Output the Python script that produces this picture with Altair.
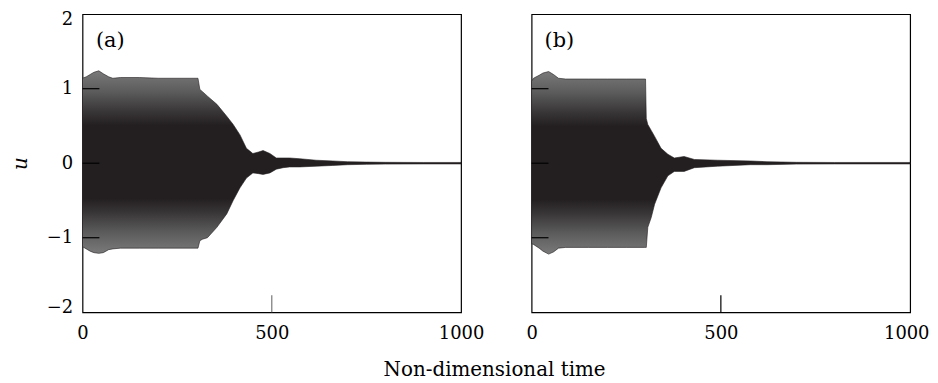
import altair as alt
import pandas as pd

# ---- panel (a): envelope of the response ----
TIME_A = [0, 10, 20, 30, 43, 55, 69, 80, 100, 150, 200, 250, 300, 305, 310, 317, 330, 355, 381, 398, 416, 433, 450, 465, 477, 495, 512, 530, 547, 574, 617, 661, 700, 750, 800, 900, 1000]
UPPER_A = [1.14, 1.16, 1.19, 1.22, 1.24, 1.20, 1.16, 1.14, 1.15, 1.15, 1.14, 1.14, 1.14, 1.14, 0.99, 0.96, 0.90, 0.79, 0.63, 0.52, 0.38, 0.20, 0.13, 0.15, 0.17, 0.13, 0.07, 0.07, 0.07, 0.06, 0.04, 0.03, 0.02, 0.015, 0.012, 0.01, 0.01]
LOWER_A = [-1.12, -1.15, -1.18, -1.20, -1.21, -1.20, -1.16, -1.15, -1.14, -1.14, -1.14, -1.14, -1.14, -1.14, -1.04, -1.02, -1.00, -0.86, -0.68, -0.50, -0.33, -0.20, -0.13, -0.14, -0.15, -0.13, -0.08, -0.06, -0.05, -0.05, -0.04, -0.03, -0.02, -0.015, -0.012, -0.01, -0.01]

# ---- panel (b) ----
TIME_B = [0, 5, 20, 30, 45, 58, 71, 90, 150, 200, 250, 298, 301, 303, 307, 316, 325, 342, 360, 377, 403, 430, 491, 578, 622, 700, 800, 1000]
UPPER_B = [1.10, 1.14, 1.18, 1.21, 1.23, 1.19, 1.14, 1.13, 1.13, 1.13, 1.13, 1.13, 1.13, 0.60, 0.52, 0.44, 0.36, 0.20, 0.12, 0.07, 0.09, 0.05, 0.04, 0.03, 0.02, 0.012, 0.01, 0.01]
LOWER_B = [-1.08, -1.09, -1.14, -1.18, -1.22, -1.19, -1.14, -1.13, -1.13, -1.13, -1.13, -1.13, -1.13, -1.13, -0.86, -0.73, -0.55, -0.33, -0.17, -0.11, -0.11, -0.06, -0.04, -0.02, -0.02, -0.012, -0.01, -0.01]

Y_TICKS = [-2, -1, 0, 1, 2]
INNER_Y_TICKS = [-1, 0, 1]
X_TICKS = [0, 500, 1000]
INNER_X_TICKS = [500]
PANEL_LABELS = ["(a)", "(b)"]

FONT = "DejaVu Serif"
INK = "#231f20"

FILL = alt.Gradient(
    gradient="linear", x1=0, x2=0, y1=0, y2=1,
    stops=[
        alt.GradientStop(offset=0.0, color="#7a7a7a"),
        alt.GradientStop(offset=0.12, color="#5a5a5a"),
        alt.GradientStop(offset=0.22, color="#3a3738"),
        alt.GradientStop(offset=0.30, color=INK),
        alt.GradientStop(offset=0.70, color=INK),
        alt.GradientStop(offset=0.78, color="#3a3738"),
        alt.GradientStop(offset=0.88, color="#5a5a5a"),
        alt.GradientStop(offset=1.0, color="#7a7a7a"),
    ],
)


def panel(times, up, lo, label, show_y, xtick_color, last_right):
    df = pd.DataFrame({"t": times, "hi": up, "lo": lo})
    xscale = alt.Scale(domain=[0, 1000], nice=False, zero=False)
    yscale = alt.Scale(domain=[-2, 2], nice=False, zero=False)
    xargs = dict(values=X_TICKS, ticks=False, grid=False, title=None, format="d",
                 labelFont=FONT, labelFontSize=18, labelColor="black",
                 labelPadding=12, domain=False, labelFlush=False)
    if last_right:
        xargs["labelAlign"] = {"condition": {"test": "datum.value >= 1000", "value": "right"}, "value": "center"}
        xargs["labelOffset"] = {"condition": {"test": "datum.value >= 1000", "value": 19}, "value": 0}
    xaxis = alt.Axis(**xargs)
    if show_y:
        yaxis = alt.Axis(values=Y_TICKS, ticks=False, grid=False, title="u", format="d",
                         labelFont=FONT, labelFontSize=18, labelColor="black",
                         labelPadding=10, domain=False,
                         labelFlush=True, labelFlushOffset=4,
                         titleFont=FONT, titleFontSize=20, titleFontStyle="italic",
                         titleFontWeight="normal", titleColor="black", titlePadding=16)
    else:
        yaxis = None
    x = alt.X("t:Q", scale=xscale, axis=xaxis)
    outer = alt.Chart(df).mark_area(fill=FILL, stroke=INK, strokeWidth=0.6,
                                    interpolate="linear").encode(
        x=x, y=alt.Y("hi:Q", scale=yscale, axis=yaxis), y2="lo:Q")
    yt = alt.Chart(pd.DataFrame({"v": INNER_Y_TICKS})).mark_rule(color="black", strokeWidth=1.2).encode(
        y=alt.Y("v:Q", scale=yscale, axis=yaxis), x=alt.value(0), x2=alt.value(17))
    xt = alt.Chart(pd.DataFrame({"v": INNER_X_TICKS})).mark_rule(color=xtick_color, strokeWidth=1.2).encode(
        x=alt.X("v:Q", scale=xscale, axis=xaxis), y=alt.value(300), y2=alt.value(283))
    txt = alt.Chart(pd.DataFrame({"lab": [label]})).mark_text(
        font=FONT, fontSize=21, color="black", align="center", baseline="middle").encode(
        text="lab:N", x=alt.value(28), y=alt.value(27))
    return alt.layer(outer, yt, xt, txt).properties(width=381, height=300)


pa = panel(TIME_A, UPPER_A, LOWER_A, PANEL_LABELS[0], True, "#777777", False)
pb = panel(TIME_B, UPPER_B, LOWER_B, PANEL_LABELS[1], False, "black", True)

chart = alt.hconcat(pa, pb, spacing=71, bounds="flush").properties(
    title=alt.TitleParams("Non-dimensional time", orient="bottom", anchor="middle",
                          font=FONT, fontSize=20, fontWeight="normal", color="black",
                          offset=18, dx=25),
    padding={"left": 1, "top": 0, "right": 0, "bottom": 0},
).configure_view(stroke="black", strokeWidth=1.2)

chart.save("out.html", embed_options={"renderer": "svg", "actions": False})
